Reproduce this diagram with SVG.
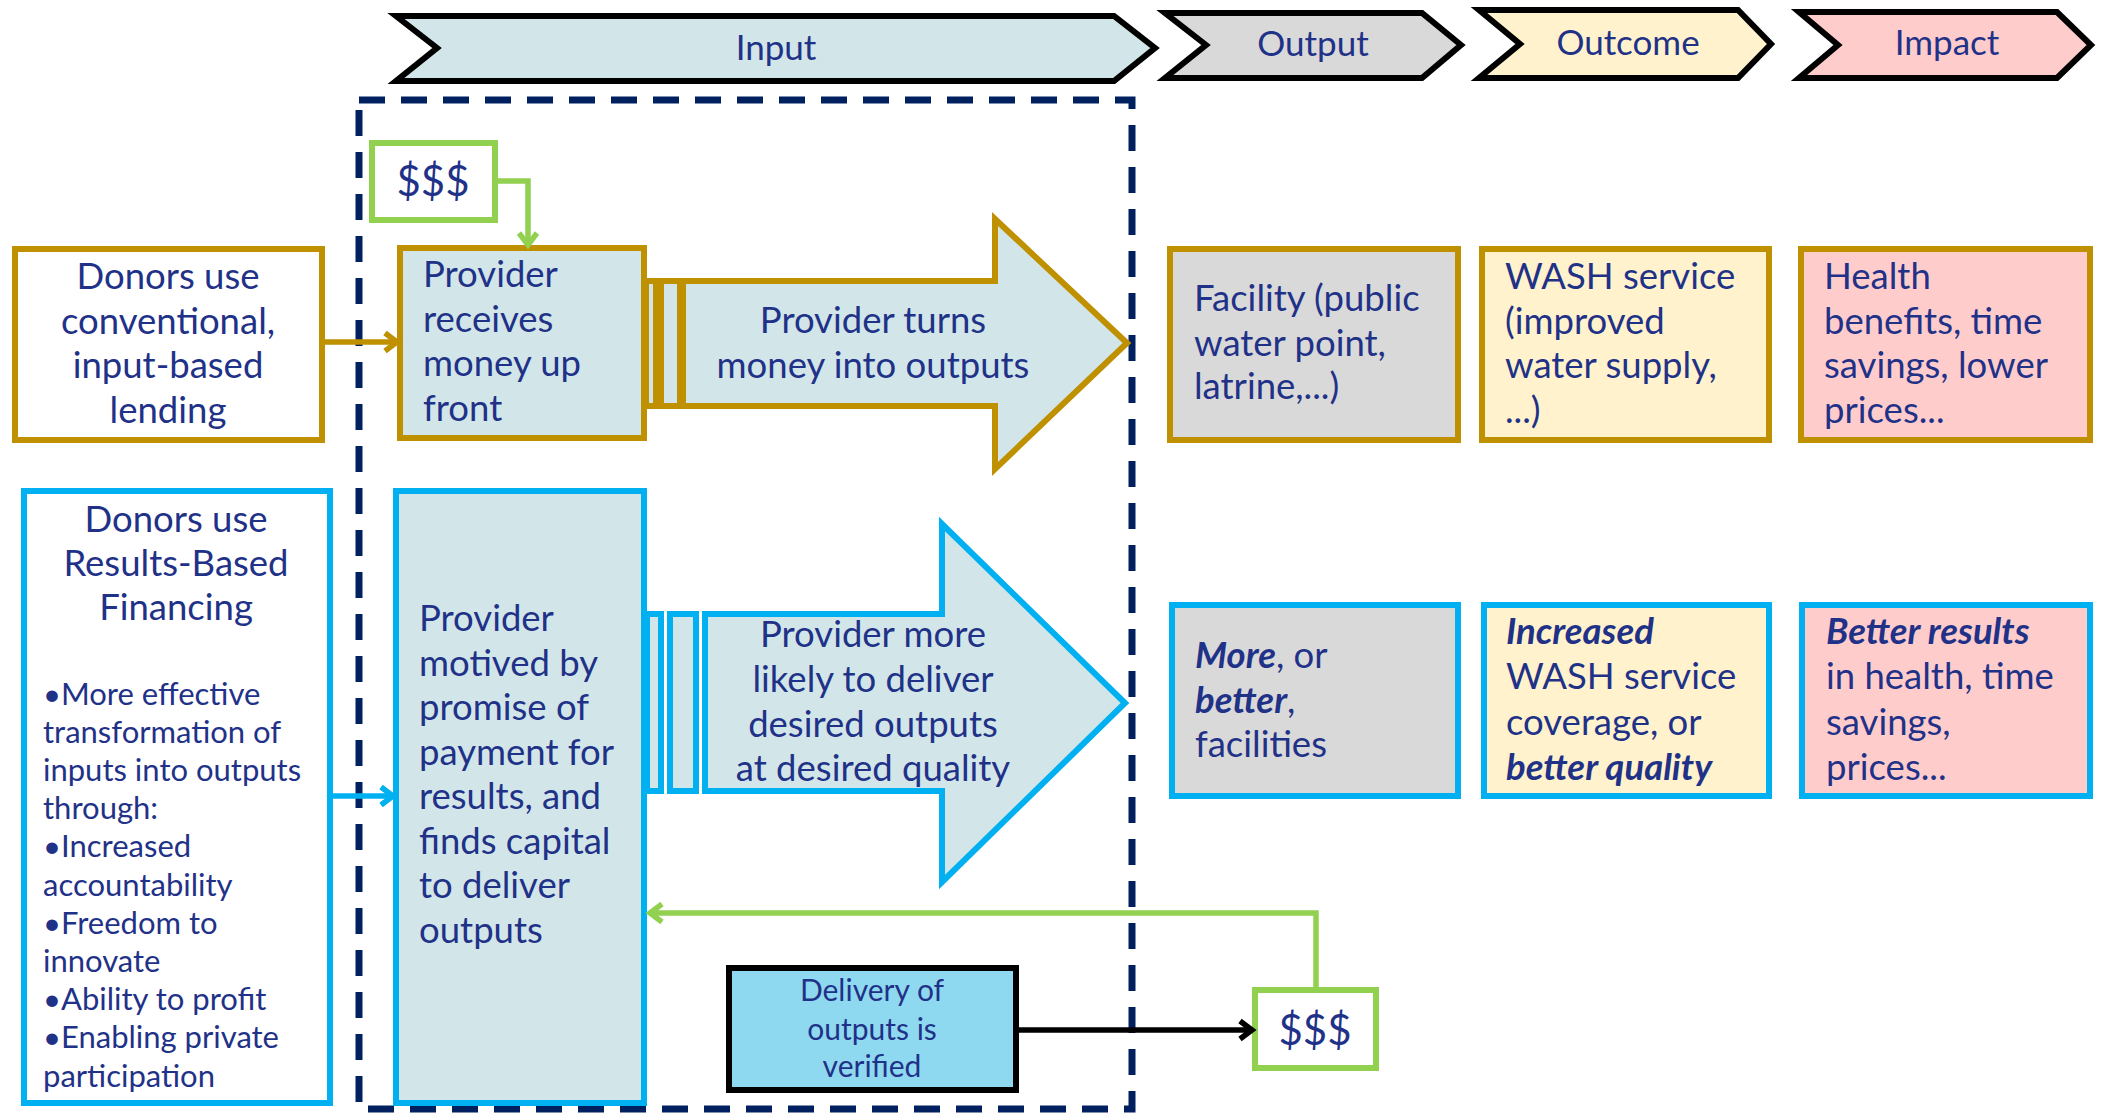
<svg xmlns="http://www.w3.org/2000/svg" width="2105" height="1113" viewBox="0 0 2105 1113">
<style>
text{font-family:Lato,"Open Sans","Liberation Sans",sans-serif;fill:#1f3288;}
.t{font-size:36.5px;}
.h{font-size:35px;}
.s{font-size:31px;}
.d{font-size:30px;}
.m{font-size:42px;}
.c{text-anchor:middle;}
.bi{font-weight:bold;font-style:italic;}
.chev{stroke:#000;stroke-width:6;stroke-linejoin:miter;}
.gold{stroke:#bf9000;stroke-width:6;}
.blue{stroke:#00b0f0;stroke-width:6;}
.grn{stroke:#92d050;stroke-width:6;fill:#fff;}
.lb{fill:#d2e6e9;}
.gr{fill:#d9d9d9;}
.yl{fill:#fff2cc;}
.pk{fill:#ffcccc;}
.wh{fill:#fff;}
.ln{fill:none;stroke-width:5.5;}
</style>
<defs>
<marker id="ag" markerUnits="userSpaceOnUse" markerWidth="24" markerHeight="24" refX="14" refY="10" orient="auto" overflow="visible"><path d="M2,1 L14,10 L2,19" fill="none" stroke="#bf9000" stroke-width="5.5"/></marker>
<marker id="ab" markerUnits="userSpaceOnUse" markerWidth="24" markerHeight="24" refX="14" refY="10" orient="auto" overflow="visible"><path d="M2,1 L14,10 L2,19" fill="none" stroke="#00b0f0" stroke-width="5.5"/></marker>
<marker id="agr" markerUnits="userSpaceOnUse" markerWidth="24" markerHeight="24" refX="14" refY="10" orient="auto" overflow="visible"><path d="M2,1 L14,10 L2,19" fill="none" stroke="#92d050" stroke-width="5.5"/></marker>
<marker id="ak" markerUnits="userSpaceOnUse" markerWidth="24" markerHeight="24" refX="14" refY="10" orient="auto" overflow="visible"><path d="M2,1 L14,10 L2,19" fill="none" stroke="#000" stroke-width="5.5"/></marker>
</defs>
<rect width="2105" height="1113" fill="#fff"/>

<!-- dashed input boundary -->
<rect id="input-boundary" x="359" y="100" width="773" height="1009" fill="none" stroke="#002060" stroke-width="7" stroke-dasharray="26 16"/>

<!-- header chevrons -->
<g id="hdr-input"><polygon class="chev lb" points="396,16 1114,16 1155,48 1114,81 396,81 437,48"/><text class="h c" x="776" y="60">Input</text></g>
<g id="hdr-output"><polygon class="chev gr" points="1165,13 1422,13 1461,45 1422,78 1165,78 1206,45"/><text class="h c" x="1313" y="56">Output</text></g>
<g id="hdr-outcome"><polygon class="chev yl" points="1479,10 1738,10 1771,44 1738,78 1479,78 1520,44"/><text class="h c" x="1628" y="55">Outcome</text></g>
<g id="hdr-impact"><polygon class="chev pk" points="1799,12 2057,12 2091,45 2057,78 1799,78 1838,45"/><text class="h c" x="1947" y="55">Impact</text></g>

<!-- row 1 -->
<g id="money-top"><rect class="grn" x="372" y="143" width="123" height="77"/><text class="m c" x="433" y="196">$$$</text></g>
<g id="donor-conv"><rect class="gold wh" x="15" y="249" width="307" height="191"/>
<text class="t c" x="168" y="289">Donors use</text><text class="t c" x="168" y="334">conventional,</text><text class="t c" x="168" y="378">input-based</text><text class="t c" x="168" y="423">lending</text></g>
<g id="provider-receives"><rect class="gold lb" x="400" y="248" width="244" height="190"/>
<text class="t" x="423" y="287">Provider</text><text class="t" x="423" y="332">receives</text><text class="t" x="423" y="376">money up</text><text class="t" x="423" y="421">front</text></g>
<g id="arrow-turns">
<rect class="gold lb" x="646" y="281" width="10" height="125"/>
<rect class="gold lb" x="661" y="281" width="19" height="125"/>
<polygon class="gold lb" points="683,281 995,281 995,219 1127,343 995,469 995,406 683,406"/>
<text class="t c" x="873" y="333">Provider turns</text><text class="t c" x="873" y="378">money into outputs</text></g>
<g id="out-facility"><rect class="gold gr" x="1170" y="249" width="288" height="191"/>
<text class="t" x="1194" y="311">Facility (public</text><text class="t" x="1194" y="356">water point,</text><text class="t" x="1194" y="399">latrine,...)</text></g>
<g id="outc-wash"><rect class="gold yl" x="1482" y="249" width="287" height="191"/>
<text class="t" x="1505" y="289">WASH service</text><text class="t" x="1505" y="334">(improved</text><text class="t" x="1505" y="378">water supply,</text><text class="t" x="1505" y="423">...)</text></g>
<g id="imp-health"><rect class="gold pk" x="1801" y="249" width="289" height="191"/>
<text class="t" x="1824" y="289">Health</text><text class="t" x="1824" y="334">benefits, time</text><text class="t" x="1824" y="378">savings, lower</text><text class="t" x="1824" y="423">prices...</text></g>

<!-- row 2 -->
<g id="donor-rbf"><rect class="blue wh" x="24" y="491" width="306" height="612"/>
<text class="t c" x="176" y="532">Donors use</text><text class="t c" x="176" y="576">Results-Based</text><text class="t c" x="176" y="620">Financing</text>
<text class="s" x="43" y="705">•More effective</text>
<text class="s" x="43" y="743">transformation of</text>
<text class="s" x="43" y="781">inputs into outputs</text>
<text class="s" x="43" y="819">through:</text>
<text class="s" x="43" y="857">•Increased</text>
<text class="s" x="43" y="896">accountability</text>
<text class="s" x="43" y="934">•Freedom to</text>
<text class="s" x="43" y="972">innovate</text>
<text class="s" x="43" y="1010">•Ability to profit</text>
<text class="s" x="43" y="1048">•Enabling private</text>
<text class="s" x="43" y="1087">participation</text></g>
<g id="provider-motived"><rect class="blue lb" x="396" y="491" width="248" height="612"/>
<text class="t" x="419" y="631">Provider</text><text class="t" x="419" y="676">motived by</text><text class="t" x="419" y="720">promise of</text><text class="t" x="419" y="765">payment for</text><text class="t" x="419" y="809">results, and</text><text class="t" x="419" y="854">finds capital</text><text class="t" x="419" y="898">to deliver</text><text class="t" x="419" y="943">outputs</text></g>
<g id="arrow-likely">
<rect class="blue lb" x="647" y="614" width="14" height="177"/>
<rect class="blue lb" x="670" y="614" width="26" height="177"/>
<polygon class="blue lb" points="705,614 942,614 942,524 1125,703 942,882 942,791 705,791"/>
<text class="t c" x="873" y="647">Provider more</text><text class="t c" x="873" y="692">likely to deliver</text><text class="t c" x="873" y="737">desired outputs</text><text class="t c" x="873" y="781">at desired quality</text></g>
<g id="out-more"><rect class="blue gr" x="1172" y="605" width="286" height="191"/>
<text class="t" x="1195" y="668"><tspan class="bi">More</tspan>, or</text><text class="t" x="1195" y="713"><tspan class="bi">better</tspan>,</text><text class="t" x="1195" y="757">facilities</text></g>
<g id="outc-increased"><rect class="blue yl" x="1484" y="605" width="285" height="191"/>
<text class="t bi" x="1506" y="644">Increased</text><text class="t" x="1506" y="689">WASH service</text><text class="t" x="1506" y="735">coverage, or</text><text class="t bi" x="1506" y="780">better quality</text></g>
<g id="imp-better"><rect class="blue pk" x="1802" y="605" width="288" height="191"/>
<text class="t bi" x="1826" y="644">Better results</text><text class="t" x="1826" y="689">in health, time</text><text class="t" x="1826" y="735">savings,</text><text class="t" x="1826" y="780">prices...</text></g>
<g id="delivery"><rect x="729" y="968" width="287" height="122" fill="#8fd9f0" stroke="#000" stroke-width="6"/>
<text class="d c" x="872" y="1001">Delivery of</text><text class="d c" x="872" y="1040">outputs is</text><text class="d c" x="872" y="1077">verified</text></g>
<g id="money-bottom"><rect class="grn" x="1255" y="990" width="121" height="78"/><text class="m c" x="1315" y="1045">$$$</text></g>

<!-- connectors -->
<g id="connectors">
<path class="ln" stroke="#bf9000" d="M322,342 H397" marker-end="url(#ag)"/>
<path class="ln" stroke="#92d050" d="M495,181 H528 V245" marker-end="url(#agr)"/>
<path class="ln" stroke="#00b0f0" d="M330,796 H393" marker-end="url(#ab)"/>
<path class="ln" stroke="#92d050" d="M1316,990 V913 H650" marker-end="url(#agr)"/>
<path class="ln" stroke="#000" d="M1016,1030 H1252" marker-end="url(#ak)"/>
</g>
</svg>
